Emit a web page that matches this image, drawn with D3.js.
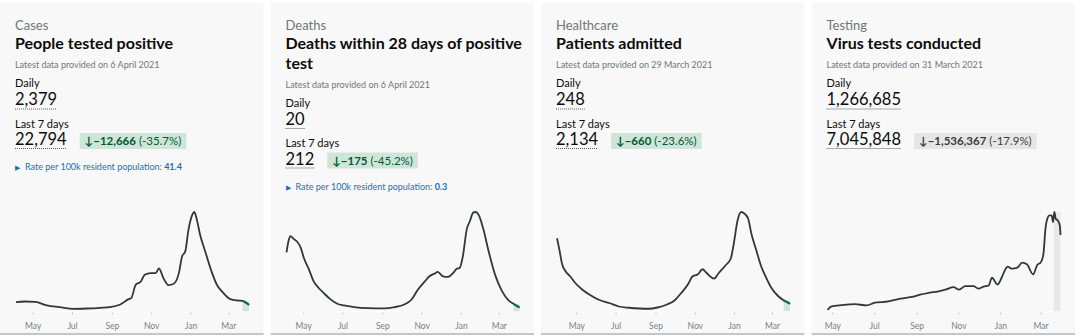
<!DOCTYPE html>
<html>
<head>
<meta charset="utf-8">
<script src="https://d3js.org/d3.v7.min.js"></script>
<style>
    body { margin: 0; background: #fff; }
    svg { display: block; font-family: Lato, "Liberation Sans", sans-serif; }
</style>
</head>
<body>
<div id="dashboard"></div>
<script>
// Headline figures for each card
var categories = ["Cases", "Deaths", "Healthcare", "Testing"];
var titles = [["People tested positive"], ["Deaths within 28 days of positive", "test"], ["Patients admitted"], ["Virus tests conducted"]];
var latestDates = ["6 April 2021", "6 April 2021", "29 March 2021", "31 March 2021"];
var dailyValues = [2379, 20, 248, 1266685];
var weeklyValues = [22794, 212, 2134, 7045848];
var weeklyChange = [-12666, -175, -660, -1536367];
var weeklyChangePct = [-35.7, -45.2, -23.6, -17.9];
var ratePer100k = [41.4, 0.3, null, null];

// Start of the incomplete (shaded) period and its tone
var incompleteFrom = ["2021-03-23", "2021-03-24", "2021-03-19", "2021-03-20"];
var incompleteTone = ["green", "green", "green", "grey"];

// Month ticks under each sparkline
var tickDates = ["2020-05-01", "2020-07-01", "2020-09-01", "2020-11-01", "2021-01-01", "2021-03-01"];

// Sparkline series (7-day averages)
var casesSeries = [
    ["2020-04-05", 5600], ["2020-04-19", 6000], ["2020-05-05", 5800], ["2020-05-23", 3600],
    ["2020-06-12", 2600], ["2020-07-03", 1600], ["2020-07-24", 1800], ["2020-08-14", 2200],
    ["2020-08-29", 2600], ["2020-09-14", 4200], ["2020-09-27", 7400], ["2020-10-01", 8000],
    ["2020-10-08", 16000], ["2020-10-16", 18000], ["2020-10-22", 22000], ["2020-10-31", 23000],
    ["2020-11-08", 23000], ["2020-11-13", 25800], ["2020-11-20", 20000], ["2020-11-28", 15800],
    ["2020-12-06", 16600], ["2020-12-14", 23000], ["2020-12-19", 33000], ["2020-12-24", 36000],
    ["2020-12-29", 49000], ["2021-01-04", 58000], ["2021-01-07", 59600], ["2021-01-11", 55000],
    ["2021-01-16", 46000], ["2021-01-24", 36000], ["2021-02-01", 26000], ["2021-02-12", 15400],
    ["2021-02-19", 12000], ["2021-03-04", 7400], ["2021-03-15", 6600], ["2021-03-23", 6400],
    ["2021-04-02", 4000]
];
var deathsSeries = [
    ["2020-04-05", 740], ["2020-04-08", 880], ["2020-04-11", 945], ["2020-04-16", 910],
    ["2020-04-21", 880], ["2020-04-27", 800], ["2020-05-02", 670], ["2020-05-10", 525],
    ["2020-05-17", 380], ["2020-05-25", 295], ["2020-06-02", 230], ["2020-06-12", 155],
    ["2020-06-23", 97], ["2020-07-03", 76], ["2020-07-19", 55], ["2020-08-09", 42],
    ["2020-09-04", 38], ["2020-09-20", 55], ["2020-10-05", 88], ["2020-10-16", 147],
    ["2020-10-26", 273], ["2020-11-06", 378], ["2020-11-13", 441], ["2020-11-21", 475],
    ["2020-11-26", 496], ["2020-12-04", 441], ["2020-12-12", 433], ["2020-12-20", 483],
    ["2020-12-25", 533], ["2020-12-30", 546], ["2021-01-04", 693], ["2021-01-10", 1029],
    ["2021-01-15", 1134], ["2021-01-20", 1239], ["2021-01-24", 1247], ["2021-01-28", 1218],
    ["2021-02-05", 1029], ["2021-02-13", 756], ["2021-02-23", 462], ["2021-03-06", 252],
    ["2021-03-16", 139], ["2021-03-24", 95], ["2021-04-02", 50]
];
var admissionsSeries = [
    ["2020-04-01", 2930], ["2020-04-05", 2430], ["2020-04-09", 1890], ["2020-04-14", 1620],
    ["2020-04-22", 1390], ["2020-04-29", 1150], ["2020-05-10", 880], ["2020-05-23", 650],
    ["2020-06-05", 470], ["2020-06-21", 340], ["2020-07-06", 200], ["2020-07-22", 150],
    ["2020-08-07", 120], ["2020-08-22", 110], ["2020-09-04", 160], ["2020-09-18", 270],
    ["2020-10-01", 450], ["2020-10-11", 740], ["2020-10-22", 1110], ["2020-10-28", 1390],
    ["2020-11-06", 1490], ["2020-11-13", 1690], ["2020-11-19", 1550], ["2020-12-01", 1320],
    ["2020-12-08", 1530], ["2020-12-19", 1850], ["2020-12-27", 2120], ["2021-01-01", 2770],
    ["2021-01-06", 3580], ["2021-01-12", 3980], ["2021-01-17", 3920], ["2021-01-23", 3710],
    ["2021-01-28", 3110], ["2021-02-04", 2500], ["2021-02-12", 1820], ["2021-02-20", 1350],
    ["2021-02-27", 990], ["2021-03-10", 630], ["2021-03-19", 450], ["2021-03-29", 310]
];
var testsSeries = [
    ["2020-04-24", 25000], ["2020-04-30", 75000], ["2020-05-15", 95000], ["2020-06-03", 110000],
    ["2020-06-20", 90000], ["2020-07-02", 130000], ["2020-07-22", 150000], ["2020-08-05", 185000],
    ["2020-08-25", 215000], ["2020-09-06", 250000], ["2020-09-18", 275000], ["2020-10-03", 300000],
    ["2020-10-13", 325000], ["2020-10-25", 360000], ["2020-11-02", 325000], ["2020-11-11", 375000],
    ["2020-11-23", 375000], ["2020-11-30", 340000], ["2020-12-08", 370000], ["2020-12-15", 385000],
    ["2020-12-20", 500000], ["2020-12-28", 400000], ["2021-01-03", 500000], ["2021-01-09", 635000],
    ["2021-01-12", 665000], ["2021-01-18", 635000], ["2021-01-26", 650000], ["2021-02-02", 725000],
    ["2021-02-09", 700000], ["2021-02-18", 550000], ["2021-02-24", 690000], ["2021-03-01", 725000],
    ["2021-03-05", 850000], ["2021-03-08", 1225000], ["2021-03-11", 1385000], ["2021-03-14", 1425000],
    ["2021-03-17", 1425000], ["2021-03-19", 1325000], ["2021-03-21", 1475000], ["2021-03-23", 1375000],
    ["2021-03-26", 1350000], ["2021-03-29", 1275000], ["2021-03-30", 1135000]
];
var allSeries = [casesSeries, deathsSeries, admissionsSeries, testsSeries];

(function() {
    var svgWidth = 1080,
        svgHeight = 336,
        cardTop = 3,
        cardBottom = 333,
        pad = 15,
        chartTop = 212,
        chartBase = 311.5;

    var parseDate = d3.timeParse("%Y-%m-%d");
    var fmt = d3.format(",");
    var font = 'Lato, "Liberation Sans", sans-serif';

    var svg = d3.select("#dashboard").append("svg")
        .attr("width", svgWidth)
        .attr("height", svgHeight);

    // One band per card
    var band = d3.scaleBand()
        .domain(categories)
        .range([0, 1075])
        .paddingInner(0.026);

    var cards = svg.selectAll("g.card")
        .data(categories)
        .join("g")
            .attr("class", "card")
            .attr("transform", d => "translate(" + band(d) + ",0)");

    cards.each(function(cat, i) {
        var g = d3.select(this);
        var w = band.bandwidth();
        var shift = (titles[i].length - 1) * 19.5;

        // Card background and bottom rule
        g.append("rect")
            .attr("y", cardTop)
            .attr("width", w)
            .attr("height", cardBottom - cardTop)
            .attr("fill", "#f8f8f8");
        g.append("rect")
            .attr("y", cardBottom)
            .attr("width", w)
            .attr("height", 2)
            .attr("fill", "#c4c6c8");

        // Category + title
        g.append("text")
            .attr("x", pad).attr("y", 29.5)
            .attr("font-size", 13)
            .attr("fill", "#6f777b")
            .text(cat);

        titles[i].forEach(function(line, k) {
            g.append("text")
                .attr("x", pad).attr("y", 49 + k * 19.5)
                .attr("font-size", 16)
                .attr("font-weight", "bold")
                .attr("fill", "#0b0c0c")
                .text(line);
        });

        g.append("text")
            .attr("x", pad).attr("y", 68 + shift)
            .attr("font-size", 9)
            .attr("fill", "#6f777b")
            .text("Latest data provided on " + latestDates[i]);

        // Daily figure
        g.append("text")
            .attr("x", pad).attr("y", 87 + shift)
            .attr("font-size", 11)
            .attr("fill", "#0b0c0c")
            .text("Daily");
        var daily = g.append("text")
            .attr("x", pad).attr("y", 105 + shift)
            .attr("font-size", 16.5)
            .attr("fill", "#0b0c0c")
            .text(fmt(dailyValues[i]));
        var dailyW = daily.node().getComputedTextLength();
        g.append("line")
            .attr("x1", pad).attr("x2", pad + dailyW)
            .attr("y1", 109 + shift).attr("y2", 109 + shift)
            .attr("stroke", "#505a5f")
            .attr("stroke-dasharray", "1,1");

        // Last 7 days figure
        g.append("text")
            .attr("x", pad).attr("y", 127.5 + shift)
            .attr("font-size", 11)
            .attr("fill", "#0b0c0c")
            .text("Last 7 days");
        var weekly = g.append("text")
            .attr("x", pad).attr("y", 145 + shift)
            .attr("font-size", 16.5)
            .attr("fill", "#0b0c0c")
            .text(fmt(weeklyValues[i]));
        var weeklyW = weekly.node().getComputedTextLength();
        g.append("line")
            .attr("x1", pad).attr("x2", pad + weeklyW)
            .attr("y1", 148.5 + shift).attr("y2", 148.5 + shift)
            .attr("stroke", "#505a5f")
            .attr("stroke-dasharray", "1,1");

        // Change badge
        var green = incompleteTone[i] === "green";
        var badge = g.append("g")
            .attr("transform", "translate(" + (pad + weeklyW + 13) + "," + (133 + shift) + ")");
        var badgeBg = badge.append("rect")
            .attr("height", 16)
            .attr("fill", green ? "#cfe5da" : "#e6e6e6");
        var badgeText = badge.append("text")
            .attr("x", 5).attr("y", 12)
            .attr("font-size", 11.5)
            .attr("fill", green ? "#005a30" : "#383f43");
        badgeText.append("tspan").attr("font-weight", "bold").text("\u2193");
        badgeText.append("tspan").attr("font-weight", "bold").text(fmt(weeklyChange[i]));
        badgeText.append("tspan").text(" (" + weeklyChangePct[i].toFixed(1) + "%)");
        badgeBg.attr("width", badgeText.node().getComputedTextLength() + 10);

        // Rate link
        if (ratePer100k[i] !== null) {
            g.append("text")
                .attr("x", pad).attr("y", 170 + shift)
                .attr("font-size", 7)
                .attr("fill", "#1d70b8")
                .text("\u25B6");
            var rate = g.append("text")
                .attr("x", pad + 10).attr("y", 170 + shift)
                .attr("font-size", 9)
                .attr("fill", "#1d70b8");
            rate.append("tspan").text("Rate per 100k resident population: ");
            rate.append("tspan").attr("font-weight", "bold").text(ratePer100k[i]);
        }

        // Sparkline
        var data = allSeries[i].map(d => ({ date: parseDate(d[0]), value: d[1] }));
        var x = d3.scaleTime()
            .domain(d3.extent(data, d => d.date))
            .range([16, 249]);
        var y = d3.scaleLinear()
            .domain([0, d3.max(data, d => d.value)])
            .range([chartBase, chartTop]);

        var from = parseDate(incompleteFrom[i]);
        var tail = data.filter(d => d.date >= from);
        var tailMax = d3.max(tail, d => d.value);
        g.append("rect")
            .attr("x", x(from))
            .attr("width", x(data[data.length - 1].date) - x(from))
            .attr("y", y(tailMax))
            .attr("height", chartBase - y(tailMax))
            .attr("fill", green ? "#cfe5da" : "#e8e8e8");

        // baseline
        g.append("line")
            .attr("x1", 16).attr("x2", 249)
            .attr("y1", chartBase + 0.5).attr("y2", chartBase + 0.5)
            .attr("stroke", "#ffffff");

        var line = d3.line()
            .x(d => x(d.date))
            .y(d => y(d.value))
            .curve(d3.curveMonotoneX);

        g.append("path")
            .datum(data)
            .attr("d", line)
            .attr("fill", "none")
            .attr("stroke", "#32373a")
            .attr("stroke-width", 1.8);

        if (green) {
            g.append("path")
                .datum(tail)
                .attr("d", line)
                .attr("fill", "none")
                .attr("stroke", "#00703c")
                .attr("stroke-width", 1.8);
        }

        // Month axis
        var axis = g.append("g")
            .attr("transform", "translate(0," + (chartBase + 1) + ")")
            .call(d3.axisBottom(x)
                .tickValues(tickDates.map(parseDate))
                .tickFormat(d3.timeFormat("%b"))
                .tickSize(2)
                .tickPadding(8));
        axis.select(".domain").remove();
        axis.selectAll(".tick line").attr("stroke", "#c8c8c8");
        axis.selectAll(".tick text")
            .attr("fill", "#7a7f83")
            .attr("font-size", 8.5)
            .attr("font-family", font);
    });
})();
</script>
</body>
</html>
